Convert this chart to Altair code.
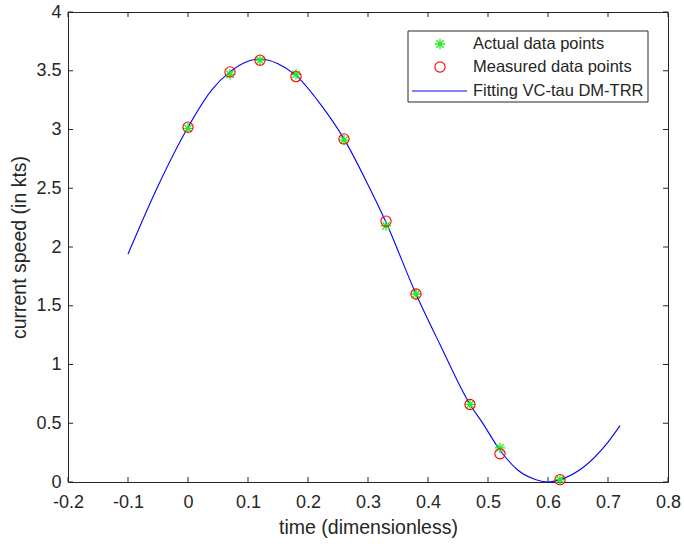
import altair as alt
import pandas as pd

# ---- data ----
t_points = [0.00, 0.07, 0.12, 0.18, 0.26, 0.33, 0.38, 0.47, 0.52, 0.62]
actual = [3.01, 3.47, 3.59, 3.47, 2.91, 2.18, 1.60, 0.66, 0.29, 0.02]
measured = [3.02, 3.49, 3.59, 3.45, 2.92, 2.22, 1.60, 0.66, 0.24, 0.02]

t_curve = [-0.10, -0.05, 0.00, 0.04, 0.07, 0.10, 0.12, 0.15, 0.18, 0.22, 0.26,
           0.30, 0.33, 0.38, 0.42, 0.47, 0.49, 0.52, 0.55, 0.58, 0.60, 0.62,
           0.66, 0.70, 0.72]
v_curve = [1.94, 2.52, 3.02, 3.34, 3.49, 3.58, 3.60, 3.56, 3.46, 3.22, 2.92,
           2.53, 2.21, 1.60, 1.17, 0.66, 0.51, 0.27, 0.10, 0.02, 0.00, 0.02,
           0.13, 0.34, 0.48]

x_ticks = [-0.2, -0.1, 0.0, 0.1, 0.2, 0.3, 0.4, 0.5, 0.6, 0.7, 0.8]
y_ticks = [0, 0.5, 1, 1.5, 2, 2.5, 3, 3.5, 4]

series_names = ["Actual data points", "Measured data points", "Fitting VC-tau DM-TRR"]

W, H = 600, 470
FONT = "Liberation Sans"
AX = "#262626"
GREEN = "#22ee22"
RED = "#ff0000"
BLUE = "#0000ff"
STAR = "M-1,0L1,0M0,-1L0,1M-0.7,-0.7L0.7,0.7M-0.7,0.7L0.7,-0.7"

pts = pd.DataFrame({"t": t_points, "actual": actual, "measured": measured})
curve = pd.DataFrame({"t": t_curve, "v": v_curve})
xt = pd.DataFrame({"t": x_ticks})
yt = pd.DataFrame({"v": y_ticks})

xs = alt.Scale(domain=[-0.2, 0.8], nice=False, zero=False)
ys = alt.Scale(domain=[0, 4], nice=False)

x_axis = alt.Axis(values=x_ticks, title="time (dimensionless)",
                  labelExpr="datum.value < 0 ? '-' + format(-datum.value, '.1~f') : format(datum.value, '.1~f')",
                  grid=False, ticks=False, domain=False, labelPadding=11,
                  labelFontSize=18, titleFontSize=19.5, labelFont=FONT, titleFont=FONT,
                  labelColor=AX, titleColor=AX, titleFontWeight="normal", titlePadding=7,
                  labelFlush=False)
y_axis = alt.Axis(values=y_ticks, format="~g", title="current speed (in kts)",
                  grid=False, ticks=False, domain=False, labelPadding=7,
                  labelFontSize=18, titleFontSize=19.5, labelFont=FONT, titleFont=FONT,
                  labelColor=AX, titleColor=AX, titleFontWeight="normal", titlePadding=6)

line = alt.Chart(curve).mark_line(color=BLUE, strokeWidth=1.1, interpolate="monotone").encode(
    x=alt.X("t:Q", scale=xs, axis=x_axis),
    y=alt.Y("v:Q", scale=ys, axis=y_axis),
)

stars = alt.Chart(pts).mark_point(shape=STAR, filled=False, color=GREEN, size=110,
                                  strokeWidth=1.3, opacity=1).encode(
    x=alt.X("t:Q", scale=xs), y=alt.Y("actual:Q", scale=ys))

circles = alt.Chart(pts).mark_point(shape="circle", filled=False, color=RED, size=105,
                                    strokeWidth=1.1, opacity=1).encode(
    x=alt.X("t:Q", scale=xs), y=alt.Y("measured:Q", scale=ys))

# inward ticks on all four sides
tk = dict(color=AX, strokeWidth=1)
xb = alt.Chart(xt).mark_rule(**tk).encode(x=alt.X("t:Q", scale=xs), y=alt.value(H), y2=alt.value(H - 5))
xtop = alt.Chart(xt).mark_rule(**tk).encode(x=alt.X("t:Q", scale=xs), y=alt.value(0), y2=alt.value(5))
yl = alt.Chart(yt).mark_rule(**tk).encode(y=alt.Y("v:Q", scale=ys), x=alt.value(0), x2=alt.value(5))
yr = alt.Chart(yt).mark_rule(**tk).encode(y=alt.Y("v:Q", scale=ys), x=alt.value(W), x2=alt.value(W - 5))

# legend box
leg_df = pd.DataFrame({"name": series_names})
box = alt.Chart(leg_df.head(1)).mark_rect(fill="white", stroke=AX, strokeWidth=1).encode(
    x=alt.value(340), x2=alt.value(580), y=alt.value(19), y2=alt.value(90))
rows_y = [32, 55, 79]
leg_text = [alt.Chart(leg_df.iloc[[i]]).mark_text(align="left", baseline="middle", font=FONT,
                                                  fontSize=16.5, color=AX).encode(
    text="name:N", x=alt.value(405), y=alt.value(rows_y[i])) for i in range(3)]
leg_star = alt.Chart(leg_df.head(1)).mark_point(shape=STAR, filled=False, color=GREEN, size=110,
                                                strokeWidth=1.3, opacity=1).encode(
    x=alt.value(372), y=alt.value(rows_y[0]))
leg_circ = alt.Chart(leg_df.head(1)).mark_point(shape="circle", filled=False, color=RED, size=105,
                                                strokeWidth=1.1, opacity=1).encode(
    x=alt.value(372), y=alt.value(rows_y[1]))
leg_line = alt.Chart(leg_df.head(1)).mark_rule(color=BLUE, strokeWidth=1.1).encode(
    x=alt.value(344), x2=alt.value(399), y=alt.value(rows_y[2]))

chart = alt.layer(
    line, stars, circles, xb, xtop, yl, yr,
    box, *leg_text, leg_star, leg_circ, leg_line
).properties(
    width=W, height=H,
    autosize=alt.AutoSizeParams(type="none"),
    padding={"left": 68, "top": 12, "right": 16, "bottom": 64},
    background="white",
).configure_view(stroke=AX, strokeWidth=1)

chart.save("out.html", embed_options={"renderer": "svg", "actions": False})
